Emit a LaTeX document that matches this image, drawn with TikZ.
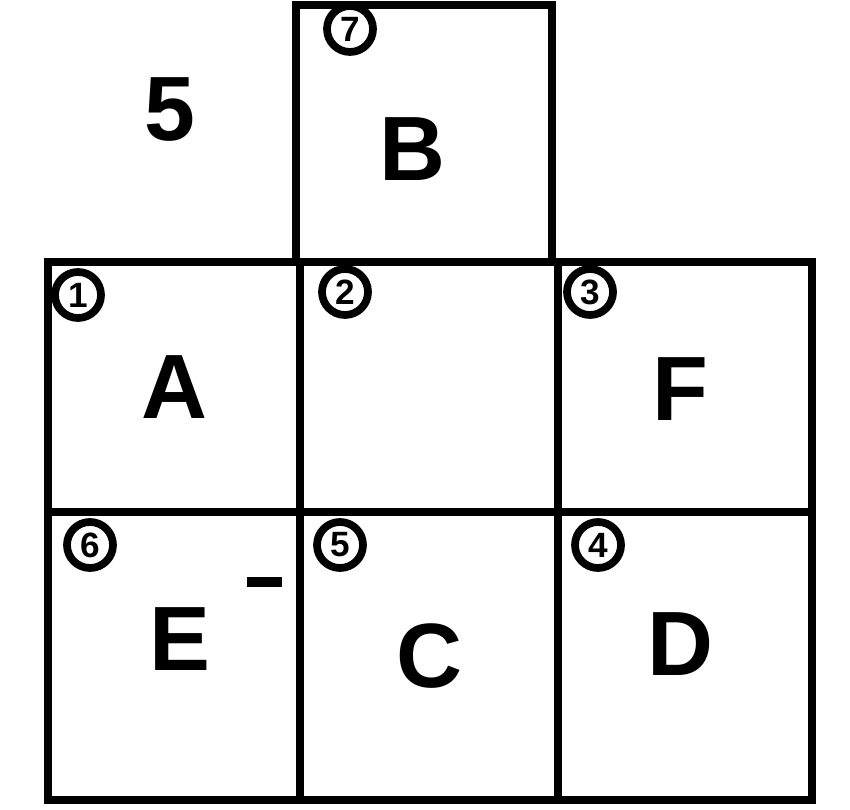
\documentclass[tikz,border=0pt]{standalone}
\usepackage{fontspec}
\setmainfont{Liberation Sans}
\usetikzlibrary{positioning}

\begin{document}
\begin{tikzpicture}[line width=2.4pt,
        cell/.style = {draw, rectangle, inner sep=0pt, outer sep=0pt, font=\fontsize{26}{28}\selectfont\bfseries},
        num/.style = {draw, circle, line width=2.2pt, minimum size=0.46cm, inner sep=0pt, font=\fontsize{10}{11}\selectfont\bfseries}]
    \useasboundingbox (0,0) rectangle (8.5,8.09);
    \node[cell, minimum width=2.56cm, minimum height=2.57cm] (b) at (4.24,6.755) {};
    \node[cell, minimum width=2.52cm, minimum height=2.50cm] (a) at (1.74,4.22) {A};
    \node[cell, minimum width=2.58cm, minimum height=2.50cm] (m) at (4.29,4.22) {};
    \node[cell, minimum width=2.54cm, minimum height=2.50cm] (f) at (6.85,4.22) {};
    \node[cell, minimum width=2.52cm, minimum height=2.88cm] (e) at (1.74,1.53) {};
    \node[cell, minimum width=2.58cm, minimum height=2.88cm] (c) at (4.29,1.53) {C};
    \node[cell, minimum width=2.54cm, minimum height=2.88cm] (d) at (6.85,1.53) {};
    % letters placed a little off centre, as drawn
    \node[font=\fontsize{26}{28}\selectfont\bfseries] (lb) at (4.12,6.60) {B};
    \node[font=\fontsize{26}{28}\selectfont\bfseries] (lf) at (6.80,4.20) {F};
    \node[font=\fontsize{26}{28}\selectfont\bfseries] (le) at (1.80,1.70) {E};
    \node[font=\fontsize{26}{28}\selectfont\bfseries] (ld) at (6.80,1.65) {D};
    \node[font=\fontsize{26}{28}\selectfont\bfseries] (five) at (1.70,6.99) {5};
    % circled numbers
    \node[num] (n7) at (3.50,7.80) {7};
    \node[num] (n1) at (0.78,5.14) {1};
    \node[num] (n2) at (3.45,5.17) {2};
    \node[num] (n3) at (5.90,5.17) {3};
    \node[num] (n6) at (0.90,2.64) {6};
    \node[num] (n5) at (3.40,2.64) {5};
    \node[num] (n4) at (5.98,2.64) {4};
    \draw[line width=3pt] (2.47,2.27) -- (2.82,2.27);
\end{tikzpicture}
\end{document}
